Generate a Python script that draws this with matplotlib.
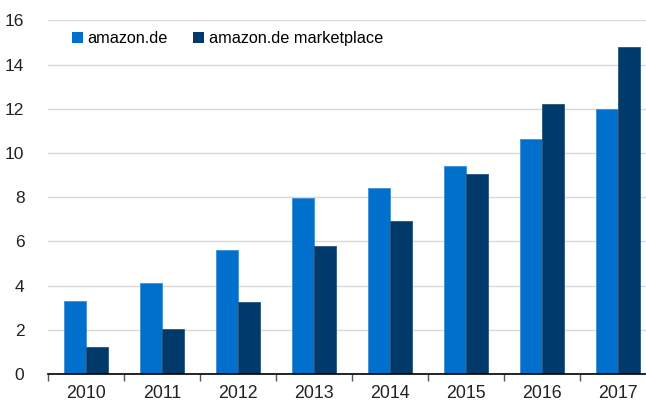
import matplotlib
matplotlib.use("Agg")
import matplotlib.pyplot as plt
import numpy as np

years = ["2010", "2011", "2012", "2013", "2014", "2015", "2016", "2017"]
amazon_de = [3.29, 4.13, 5.61, 7.96, 8.40, 9.41, 10.63, 11.98]
marketplace = [1.21, 2.04, 3.27, 5.78, 6.91, 9.05, 12.22, 14.81]
series_names = ["amazon.de", "amazon.de marketplace"]
yticks = [0, 2, 4, 6, 8, 10, 12, 14, 16]

c_light = "#0070cc"
c_dark = "#003a6b"

plt.rcParams['font.family'] = ['Liberation Sans', 'DejaVu Sans']

W, H = 646, 403
fig = plt.figure(figsize=(W/100, H/100), dpi=100)
left, right, top, bottom = 48, 656, 20.4, 374
ax = fig.add_axes([left/W, (H-bottom)/H, (right-left)/W, (bottom-top)/H])

x = np.arange(len(years))
bw = 0.283
ax.bar(x - bw/2, amazon_de, bw, color=c_light, edgecolor="#3f8fd6", linewidth=0.6, label=series_names[0], zorder=3)
ax.bar(x + bw/2, marketplace, bw, color=c_dark, edgecolor="#2a5580", linewidth=0.6, label=series_names[1], zorder=3)

ax.set_xlim(-0.5, len(years) - 0.5)
ax.set_ylim(0, 16)
ax.set_yticks(yticks)
ax.set_yticklabels([str(v) for v in yticks], fontsize=12.5, color="#222222")
ax.yaxis.grid(True, color="#d9d9d9", linewidth=1.0, zorder=0)
ax.tick_params(axis='y', length=0, pad=17)

ax.set_xticks(np.arange(-0.5, len(years), 1.0))
ax.set_xticklabels([])
ax.set_xticks(x, minor=True)
ax.set_xticklabels(years, minor=True, fontsize=12.8, color="#222222")
ax.tick_params(axis='x', which='major', length=5, width=1, color="#555555", direction='out')
ax.tick_params(axis='x', which='minor', length=0, pad=8)

for s in ['top', 'right', 'left']:
    ax.spines[s].set_visible(False)
ax.spines['bottom'].set_color("black")
ax.spines['bottom'].set_linewidth(1.2)
ax.spines['bottom'].set_zorder(4)

leg = ax.legend(loc='upper left', bbox_to_anchor=(0.029, 0.988), ncol=2, frameon=False,
                fontsize=11.7, handlelength=0.65, handleheight=0.65, handletextpad=0.3,
                columnspacing=1.55, borderaxespad=0)
for h in leg.legend_handles:
    h.set_linewidth(0)

fig.savefig("out.png", dpi=100)
